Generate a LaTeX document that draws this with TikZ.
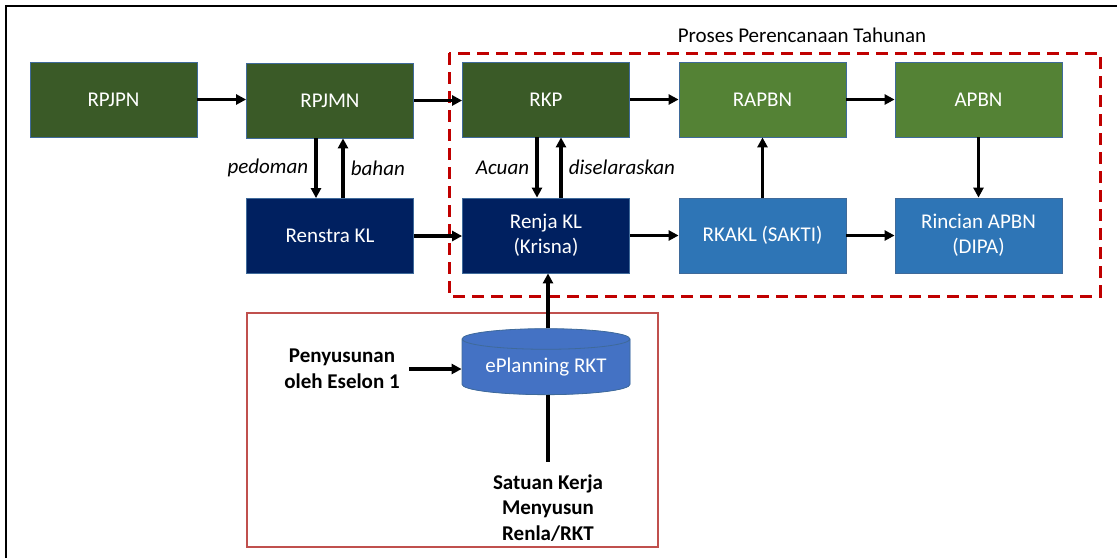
\documentclass[tikz,border=0pt]{standalone}
\usepackage{fontspec}
\setmainfont{Carlito}
\usetikzlibrary{arrows.meta,shapes.geometric}
\definecolor{dkgreen}{HTML}{3A5A27}
\definecolor{ltgreen}{HTML}{548235}
\definecolor{dkblue}{HTML}{002060}
\definecolor{mdblue}{HTML}{2E75B6}
\definecolor{cylblue}{HTML}{4472C4}
\definecolor{cyltop}{HTML}{7E9ED6}
\definecolor{boxedge}{HTML}{3F6A9A}
\definecolor{dashred}{HTML}{C00000}
\definecolor{solidred}{HTML}{C0504D}
\tikzset{
  box/.style={draw=boxedge, line width=0.8pt, minimum width=167pt, minimum height=75pt,
    inner sep=0pt, text=white, font=\fontsize{21}{25}\selectfont, align=center},
  gA/.style={box, fill=dkgreen},
  gB/.style={box, fill=ltgreen},
  bA/.style={box, fill=dkblue},
  bB/.style={box, fill=mdblue},
  arr/.style={line width=3.1pt, -{Triangle[length=10pt,width=10pt]}},
  lbl/.style={font=\fontsize{21}{25}\selectfont\itshape},
  bold/.style={font=\fontsize{21}{25.5}\selectfont\bfseries, align=center}
}
\begin{document}
\begin{tikzpicture}[x=1pt,y=-1pt]
\useasboundingbox (0,0) rectangle (1117,558);
% outer frame
\draw[line width=2.5pt] (6,558) -- (6,6) -- (1117,6);
% dashed red frame
\draw[dashred, line width=3pt, dash pattern=on 12pt off 7pt] (449,53) rectangle (1100,296);
\node[font=\fontsize{21}{25}\selectfont] (title) at (802,35) {Proses Perencanaan Tahunan};
% solid red frame
\draw[solidred, line width=1.4pt] (247,313) rectangle (658,547);
% boxes
\node[gA] (rpjpn) at (113.5,99.5) {RPJPN};
\node[gA] (rpjmn) at (330,100.5) {RPJMN};
\node[gA] (rkp) at (546,99.5) {RKP};
\node[gB] (rapbn) at (762.5,99.5) {RAPBN};
\node[gB] (apbn) at (978.5,99.5) {APBN};
\node[bA] (renstra) at (330,236) {Renstra KL};
\node[bA] (renja) at (546,235.5) {Renja KL\\(Krisna)};
\node[bB] (rkakl) at (762.5,235.5) {RKAKL (SAKTI)};
\node[bB] (rincian) at (978.5,235.5) {Rincian APBN\\(DIPA)};
% cylinder
\node[cylinder, shape border rotate=90, aspect=0.17, draw=boxedge, line width=0.8pt,
  fill=cylblue, cylinder uses custom fill, cylinder body fill=cylblue, cylinder end fill=cyltop,
  minimum width=168pt, minimum height=66pt, inner sep=0pt, text=white,
  font=\fontsize{21}{25}\selectfont] (eplan) at (546,367) {\raisebox{-7pt}{ePlanning RKT}};
\node[bold] (penyus) at (342,369) {Penyusunan\\oleh Eselon 1};
\node[bold] (satker) at (548,508) {Satuan Kerja\\Menyusun\\Renla/RKT};
\coordinate (satTop) at (548,462);
% arrows
\draw[arr] (rpjpn) -- (rpjmn.west |- rpjpn);
\draw[arr] (rpjmn.east) -- (rkp.west |- rpjmn.east);
\draw[arr] (rkp) -- (rapbn);
\draw[arr] (rapbn) -- (apbn);
\draw[arr] (renstra.east) -- (renja.west |- renstra.east);
\draw[arr] (renja) -- (rkakl);
\draw[arr] (rkakl) -- (rincian);
\draw[arr] (rkakl) -- (rapbn);
\draw[arr] (apbn) -- (rincian);
\draw[arr] ([xshift=-14pt]rpjmn.south) -- ([xshift=-14pt]renstra.north) node[lbl, midway, left=3pt] {pedoman};
\draw[arr] ([xshift=13pt]renstra.north) -- ([xshift=13pt]rpjmn.south) node[lbl, midway, right=3pt] {bahan};
\draw[arr] ([xshift=-9pt]rkp.south) -- ([xshift=-9pt]renja.north) node[lbl, midway, left=3pt] {Acuan};
\draw[arr] ([xshift=15pt]renja.north) -- ([xshift=15pt]rkp.south) node[lbl, midway, right=3pt] {diselaraskan};
\draw[arr] ([xshift=2pt]eplan.north) -- ([xshift=2pt]renja.south);
\path (penyus.east) ++(6pt,0) coordinate (pe);
\draw[arr] (pe) -- (eplan.west |- pe);
\draw[line width=3.1pt] ([xshift=2pt]eplan.south) -- (satTop);
\end{tikzpicture}
\end{document}
